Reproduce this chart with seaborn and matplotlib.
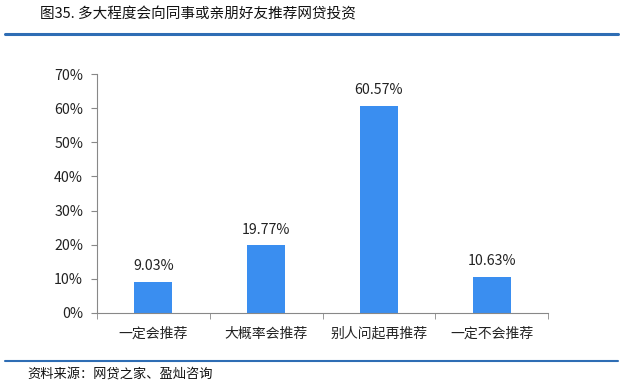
import seaborn as sns
import matplotlib.pyplot as plt
from matplotlib.lines import Line2D
import pandas as pd

categories = ['一定会推荐', '大概率会推荐', '别人问起再推荐', '一定不会推荐']
shares = [9.03, 19.77, 60.57, 10.63]
yticks = [0, 10, 20, 30, 40, 50, 60, 70]

title = '图35. 多大程度会向同事或亲朋好友推荐网贷投资'
source = '资料来源：网贷之家、盈灿咨询'

sns.set_style('white')
plt.rcParams['font.family'] = ['Noto Sans CJK SC', 'DejaVu Sans']

df = pd.DataFrame({'category': categories, 'share': shares})

fig = plt.figure(figsize=(6.24, 3.85), dpi=100)
ax = fig.add_axes([97 / 624, 1 - 313 / 385, 451 / 624, 239 / 385])
sns.barplot(data=df, x='category', y='share', color='#3A8EF0', width=0.336,
            saturation=1, linewidth=0, ax=ax)

for i, v in enumerate(shares):
    ax.text(i, v + 2.6, f'{v:.2f}%', ha='center', va='bottom', fontsize=10.2, color='#222222')

ax.set_ylim(0, 70)
ax.set_xlim(-0.5, len(categories) - 0.5)
ax.set_yticks(yticks)
ax.set_yticklabels([f'{t}%' for t in yticks], fontsize=10.2, color='#222222')
ax.set_xticks(range(len(categories)))
ax.set_xticklabels(categories, fontsize=10, color='#222222')
ax.tick_params(axis='x', length=0, pad=10)
ax.tick_params(axis='y', length=4, direction='out', left=True, color='#888888', pad=6)
# category boundary ticks on the x axis
ax.set_xticks([x - 0.5 for x in range(len(categories) + 1)], minor=True)
ax.tick_params(axis='x', which='minor', length=4, direction='out', bottom=True, color='#888888')
ax.set_xlabel('')
ax.set_ylabel('')
for side in ['top', 'right']:
    ax.spines[side].set_visible(False)
for side in ['left', 'bottom']:
    ax.spines[side].set_color('#888888')
    ax.spines[side].set_linewidth(0.8)

fig.text(40 / 624, 1 - 14 / 385, title, fontsize=10.5, va='center', ha='left', color='#111111')
fig.add_artist(Line2D([5 / 624, 618 / 624], [1 - 34 / 385] * 2, color='#2E6DB4', lw=2.2))
fig.add_artist(Line2D([5 / 624, 618 / 624], [1 - 361 / 385] * 2, color='#2E6DB4', lw=1.5))
fig.text(27 / 624, 1 - 375 / 385, source, fontsize=9.5, va='center', ha='left', color='#111111')

fig.savefig('out.png', dpi=100)
